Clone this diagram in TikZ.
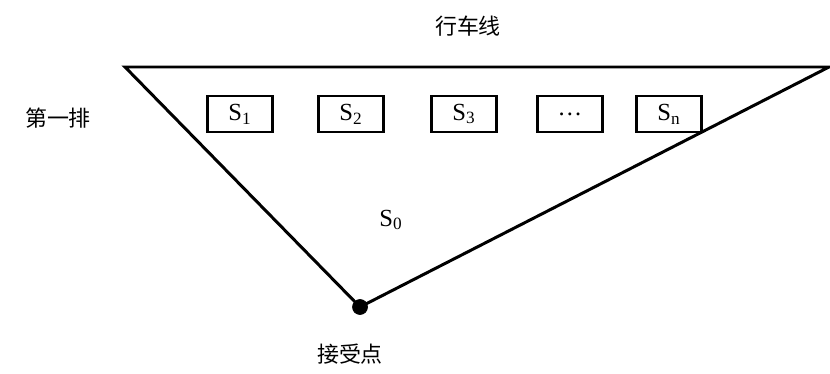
\documentclass[tikz,border=0pt]{standalone}
\usepackage{fontspec}
\setmainfont{Liberation Serif}
\newfontfamily\cjk{Noto Sans CJK SC}
\usepackage{xcolor}
\usepackage{tikz}

\begin{document}
\begin{tikzpicture}[x=0.02cm,y=-0.02cm,
    seatbox/.style={draw,line width=1.5pt,minimum width=1.3cm,minimum height=0.72cm,inner sep=0pt,font=\fontsize{14pt}{14pt}\selectfont},
    lbl/.style={font=\cjk\fontsize{12.5pt}{12.5pt}\selectfont}]

    \useasboundingbox (0,0) rectangle (830,374);
          % Fixes the page to the picture's size.

    \coordinate (tl) at (125,67);
    \coordinate (tr) at (829,67);
    \node[draw,circle,inner sep=0pt,minimum size=0.3cm,fill] (rcv) at (360,307) {};
    \draw[line width=1.7pt,line join=miter] (rcv.center) -- (tl) -- (tr) -- cycle;
          % The triangle between the line and the receiving point

    \foreach \x/\t [count=\i] in {240/S\textsubscript{1},351/S\textsubscript{2},464/S\textsubscript{3},570/\dots,669/S\textsubscript{n}}{% One box for
        \node[seatbox] (s\i) at (\x,114) {\t};% each seat of the first row
    }

		\node[lbl] (line) at (468,26) {行车线};
		\node[lbl] (row) at (58,118) {第一排};
		\node[lbl] (rcvlbl) at (350,354) {接受点};
		\node[font=\fontsize{14pt}{14pt}\selectfont] (s0) at (391,220) {S\textsubscript{0}};

\end{tikzpicture}
\end{document}
